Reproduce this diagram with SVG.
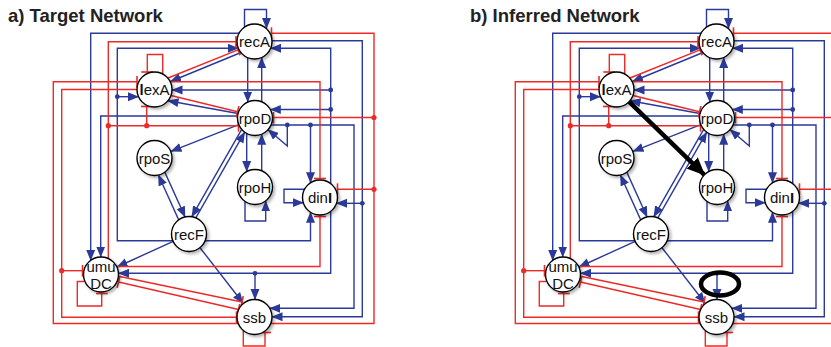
<svg xmlns="http://www.w3.org/2000/svg" width="831" height="347" viewBox="0 0 831 347">
<defs>
<style>
.b{fill:none;stroke:#2b3a98;stroke-width:1.4}
.r{fill:none;stroke:#ec2a27;stroke-width:1.4}
.ba{marker-end:url(#ab)}
.rt{marker-end:url(#tr)}
.rtt{marker-start:url(#tr);marker-end:url(#tr)}
.db{fill:#2b3a98}
.dr{fill:#ec2a27}
.n circle{fill:#fff;stroke:#000;stroke-width:1.4;filter:url(#sh)}
.n text{font-family:"Liberation Sans",Arial,sans-serif;font-size:15px;text-anchor:middle;fill:#111}
.t{font-family:"Liberation Sans",Arial,sans-serif;font-size:18.5px;font-weight:bold;fill:#222}
.k{fill:none;stroke:#000;stroke-width:4.5}
</style>
<marker id="ab" markerUnits="userSpaceOnUse" viewBox="0 0 11 10" markerWidth="11" markerHeight="10" refX="10.5" refY="5" orient="auto"><path d="M0,0.5L11,5L0,9.5Z" fill="#2b3a98"/></marker>
<marker id="tr" markerUnits="userSpaceOnUse" viewBox="0 0 4 12" markerWidth="4" markerHeight="12" refX="2" refY="6" orient="auto"><path d="M2,0V12" stroke="#ec2a27" stroke-width="1.6"/></marker>
<marker id="ak" markerUnits="userSpaceOnUse" viewBox="0 0 18 16" markerWidth="18" markerHeight="16" refX="17" refY="8" orient="auto"><path d="M0,0L18,8L0,16Z" fill="#000"/></marker>
<filter id="sh" x="-40%" y="-40%" width="190%" height="190%"><feDropShadow dx="2" dy="2" stdDeviation="1.8" flood-color="#000" flood-opacity="0.3"/></filter>
</defs>
<rect width="831" height="347" fill="#fff"/>
<text class="t" x="8" y="22">a) Target Network</text>
<text class="t" x="470" y="22">b) Inferred Network</text>

<g id="a-panel">
<g id="a-connectors">
<path class="b ba" d="M244.5,27.5V9.5H266.5V28.5"/>
<path class="b ba" d="M239,33.3H90.7V260.4"/>
<path class="b ba" d="M173.5,240.7H117.3V48.3H238.4"/>
<path class="b ba" d="M205,240.7H310.5V212.2"/>
<path class="b ba" d="M117.3,96.7H138.5"/>
<path class="b ba" d="M237.6,116H100.7V257"/>
<path class="b ba" d="M330.7,184V48.3H270.6"/>
<path class="b ba" d="M330.7,90H172"/>
<path class="b ba" d="M330.7,109.5H270.3"/>
<path class="b ba" d="M330.7,211.4V273.3H118.5"/>
<path class="b ba" d="M255,273.3V299.5"/>
<path class="b ba" d="M272,40.7H362.3V316.7H272"/>
<path class="b ba" d="M362.3,203.3H336.5"/>
<path class="b ba" d="M271,125H354V308.3H269.7"/>
<path class="b ba" d="M310.5,125V182.8"/>
<path class="b ba" d="M287.3,125V146L268,129.5"/>
<path class="b ba" d="M246.7,133.4V171.6"/>
<path class="b ba" d="M261.7,170.8V134.2"/>
<path class="b ba" d="M247.7,57.6V102.1"/>
<path class="b ba" d="M261.7,101.8V57.5"/>
<path class="b ba" d="M245,201.4V221H265.7V200.9"/>
<path class="b ba" d="M304.5,189.3H284V202.7H303.3"/>
<path class="b ba" d="M241,52.5L170.5,81.5"/>
<path class="b ba" d="M238,113.5L168,100.8"/>
<path class="b ba" d="M238.8,124.6L171,151.4"/>
<path class="b ba" d="M164.8,172.1L185.1,217"/>
<path class="b ba" d="M178.7,219.9L158.4,175"/>
<path class="b ba" d="M241.7,129.4L191.8,216.7"/>
<path class="b ba" d="M195.8,217.9L244.7,132.2"/>
<path class="b ba" d="M173.2,241.3L117,267"/>
<path class="b ba" d="M200,247.7L243,303"/>
<circle class="db" cx="117.3" cy="96.7" r="2.4"/>
<circle class="db" cx="330.7" cy="90" r="2.4"/>
<circle class="db" cx="330.7" cy="109.5" r="2.4"/>
<circle class="db" cx="255" cy="273.3" r="2.4"/>
<circle class="db" cx="362.3" cy="203.3" r="2.4"/>
<circle class="db" cx="310.5" cy="125" r="2.4"/>
<circle class="db" cx="287.3" cy="125" r="2.4"/>
<path class="r rt" d="M162.7,74V54.5H147.3V72"/>
<path class="r rtt" d="M271.5,33.3H374V323.5H53.3V81.7H137"/>
<path class="r rt" d="M374,117.5H273.5"/>
<path class="r rt" d="M374,189.3H337.5"/>
<path class="r rt" d="M137,89.5H61.7V317.3H236.5"/>
<path class="r rt" d="M61.7,270.7H82.5"/>
<path class="r rt" d="M108.3,258.6V41.7H236"/>
<path class="r rt" d="M108.3,125.7H238.5"/>
<path class="r rt" d="M146.7,125.7V106.5"/>
<path class="r rt" d="M170.2,81.7H320V178.5"/>
<path class="r rt" d="M168,78L238,49.8"/>
<path class="r rt" d="M171,95.5L237.5,111.8"/>
<path class="r rt" d="M116.6,266.5H320V216.5"/>
<path class="r rt" d="M117.5,276L242,302"/>
<path class="r rtt" d="M238.5,309.5L118.5,282"/>
<path class="r rt" d="M84,281.5H77.3V306H101.7V293.5"/>
<path class="r rt" d="M243.3,330.4V346H265V332.5"/>
<circle class="dr" cx="374" cy="117.5" r="2.6"/>
<circle class="dr" cx="374" cy="189.3" r="2.6"/>
<circle class="dr" cx="61.7" cy="270.7" r="2.6"/>
<circle class="dr" cx="108.3" cy="125.7" r="2.6"/>
<circle class="dr" cx="146.7" cy="125.7" r="2.6"/>
</g>
<g id="a-recA" class="n"><circle cx="254.5" cy="41.5" r="17.5"/><text x="254.5" y="47">recA</text></g>
<g id="a-lexA" class="n"><circle cx="154.5" cy="89.5" r="17.5"/><text x="154.5" y="95"><tspan font-weight="bold">l</tspan>exA</text></g>
<g id="a-rpoD" class="n"><circle cx="255" cy="118" r="17.5"/><text x="255" y="123.5">rpoD</text></g>
<g id="a-rpoS" class="n"><circle cx="154.5" cy="158" r="17.5"/><text x="154.5" y="163.5">rpoS</text></g>
<g id="a-rpoH" class="n"><circle cx="255" cy="187" r="17.5"/><text x="255" y="192.5">rpoH</text></g>
<g id="a-dinI" class="n"><circle cx="320" cy="197.5" r="17.5"/><text x="320" y="203">din<tspan font-weight="bold">I</tspan></text></g>
<g id="a-recF" class="n"><circle cx="189" cy="234" r="17.5"/><text x="189" y="239.5">recF</text></g>
<g id="a-umuDC" class="n"><circle cx="101" cy="274.5" r="17.5"/><text x="101" y="272">umu</text><text x="101" y="288.5">DC</text></g>
<g id="a-ssb" class="n"><circle cx="254.5" cy="317" r="17.5"/><text x="254.5" y="322.5">ssb</text></g>
</g>

<g id="b-panel" transform="translate(462,0)">
<g id="b-connectors">
<path class="b ba" d="M244.5,27.5V9.5H266.5V28.5"/>
<path class="b ba" d="M239,33.3H90.7V260.4"/>
<path class="b ba" d="M173.5,240.7H117.3V48.3H238.4"/>
<path class="b ba" d="M205,240.7H310.5V212.2"/>
<path class="b ba" d="M117.3,96.7H138.5"/>
<path class="b ba" d="M237.6,116H100.7V257"/>
<path class="b ba" d="M330.7,184V48.3H270.6"/>
<path class="b ba" d="M330.7,90H172"/>
<path class="b ba" d="M330.7,109.5H270.3"/>
<path class="b ba" d="M330.7,211.4V273.3H118.5"/>
<path class="b ba" d="M255,273.3V299.5"/>
<path class="b ba" d="M272,40.7H362.3V316.7H272"/>
<path class="b ba" d="M362.3,203.3H336.5"/>
<path class="b ba" d="M271,125H354V308.3H269.7"/>
<path class="b ba" d="M310.5,125V182.8"/>
<path class="b ba" d="M287.3,125V146L268,129.5"/>
<path class="b ba" d="M246.7,133.4V171.6"/>
<path class="b ba" d="M261.7,170.8V134.2"/>
<path class="b ba" d="M247.7,57.6V102.1"/>
<path class="b ba" d="M261.7,101.8V57.5"/>
<path class="b ba" d="M245,201.4V221H265.7V200.9"/>
<path class="b ba" d="M304.5,189.3H284V202.7H303.3"/>
<path class="b ba" d="M241,52.5L170.5,81.5"/>
<path class="b ba" d="M238,113.5L168,100.8"/>
<path class="b ba" d="M238.8,124.6L171,151.4"/>
<path class="b ba" d="M164.8,172.1L185.1,217"/>
<path class="b ba" d="M178.7,219.9L158.4,175"/>
<path class="b ba" d="M241.7,129.4L191.8,216.7"/>
<path class="b ba" d="M195.8,217.9L244.7,132.2"/>
<path class="b ba" d="M173.2,241.3L117,267"/>
<path class="b ba" d="M200,247.7L243,303"/>
<circle class="db" cx="117.3" cy="96.7" r="2.4"/>
<circle class="db" cx="330.7" cy="90" r="2.4"/>
<circle class="db" cx="330.7" cy="109.5" r="2.4"/>
<circle class="db" cx="255" cy="273.3" r="2.4"/>
<circle class="db" cx="362.3" cy="203.3" r="2.4"/>
<circle class="db" cx="310.5" cy="125" r="2.4"/>
<circle class="db" cx="287.3" cy="125" r="2.4"/>
<path class="r rt" d="M162.7,74V54.5H147.3V72"/>
<path class="r rtt" d="M271.5,33.3H374V323.5H53.3V81.7H137"/>
<path class="r rt" d="M374,117.5H273.5"/>
<path class="r rt" d="M374,189.3H337.5"/>
<path class="r rt" d="M137,89.5H61.7V317.3H236.5"/>
<path class="r rt" d="M61.7,270.7H82.5"/>
<path class="r rt" d="M108.3,258.6V41.7H236"/>
<path class="r rt" d="M108.3,125.7H238.5"/>
<path class="r rt" d="M146.7,125.7V106.5"/>
<path class="r rt" d="M170.2,81.7H320V178.5"/>
<path class="r rt" d="M168,78L238,49.8"/>
<path class="r rt" d="M171,95.5L237.5,111.8"/>
<path class="r rt" d="M116.6,266.5H320V216.5"/>
<path class="r rt" d="M117.5,276L242,302"/>
<path class="r rtt" d="M238.5,309.5L118.5,282"/>
<path class="r rt" d="M84,281.5H77.3V306H101.7V293.5"/>
<path class="r rt" d="M243.3,330.4V346H265V332.5"/>
<circle class="dr" cx="374" cy="117.5" r="2.6"/>
<circle class="dr" cx="374" cy="189.3" r="2.6"/>
<circle class="dr" cx="61.7" cy="270.7" r="2.6"/>
<circle class="dr" cx="108.3" cy="125.7" r="2.6"/>
<circle class="dr" cx="146.7" cy="125.7" r="2.6"/>
<path class="k" d="M167,101.7L242.4,174.8" marker-end="url(#ak)"/>
</g>
<g id="b-recA" class="n"><circle cx="254.5" cy="41.5" r="17.5"/><text x="254.5" y="47">recA</text></g>
<g id="b-lexA" class="n"><circle cx="154.5" cy="89.5" r="17.5"/><text x="154.5" y="95"><tspan font-weight="bold">l</tspan>exA</text></g>
<g id="b-rpoD" class="n"><circle cx="255" cy="118" r="17.5"/><text x="255" y="123.5">rpoD</text></g>
<g id="b-rpoS" class="n"><circle cx="154.5" cy="158" r="17.5"/><text x="154.5" y="163.5">rpoS</text></g>
<g id="b-rpoH" class="n"><circle cx="255" cy="187" r="17.5"/><text x="255" y="192.5">rpoH</text></g>
<g id="b-dinI" class="n"><circle cx="320" cy="197.5" r="17.5"/><text x="320" y="203">din<tspan font-weight="bold">I</tspan></text></g>
<g id="b-recF" class="n"><circle cx="189" cy="234" r="17.5"/><text x="189" y="239.5">recF</text></g>
<g id="b-umuDC" class="n"><circle cx="101" cy="274.5" r="17.5"/><text x="101" y="272">umu</text><text x="101" y="288.5">DC</text></g>
<g id="b-ssb" class="n"><circle cx="254.5" cy="317" r="17.5"/><text x="254.5" y="322.5">ssb</text></g>
<ellipse id="b-mark" class="k" cx="258" cy="284" rx="19" ry="11.5"/>
</g>
</svg>
